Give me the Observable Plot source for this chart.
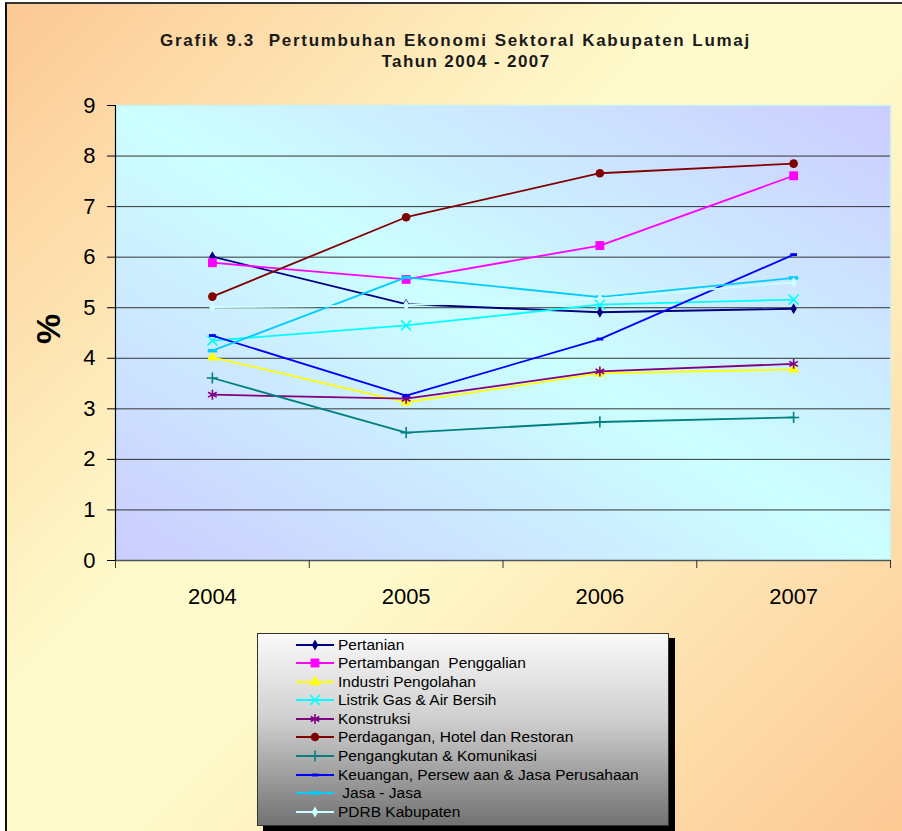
<!DOCTYPE html>
<html><head><meta charset="utf-8">
<script src="https://cdn.jsdelivr.net/npm/d3@7"></script>
<script src="https://cdn.jsdelivr.net/npm/@observablehq/plot@0.6"></script>
<style>
html,body{margin:0;padding:0;background:#fff;}
#wrap{position:relative;width:902px;height:831px;overflow:hidden;font-family:"Liberation Sans",Arial,sans-serif;}
#bg{position:absolute;left:5px;top:2px;width:897px;height:829px;box-sizing:border-box;border-left:2px solid #111;border-top:2px solid #333;
  background:linear-gradient(135deg,#fcc893 0%,#fffacb 40%,#fffacb 55%,#fcc893 100%);}
#chart{position:absolute;left:0;top:0;}
.t1{position:absolute;left:160px;top:31px;width:597px;overflow:hidden;white-space:pre;font-weight:bold;font-size:17px;line-height:19px;letter-spacing:1.7px;word-spacing:0.5px;color:#1a1a1a;}
.t2{position:absolute;left:266px;top:52px;width:400px;text-align:center;white-space:pre;font-weight:bold;font-size:17px;line-height:19px;letter-spacing:1.4px;color:#1a1a1a;}
.ylab{position:absolute;left:48px;top:329px;transform:translate(-50%,-50%) rotate(-90deg);font-weight:bold;font-size:34px;line-height:34px;color:#000;}
#legend{position:absolute;left:257px;top:633px;width:412px;height:193px;box-sizing:border-box;border:1px solid #333;
  background:linear-gradient(to bottom,#fafafa 0%,#cfcfcf 45%,#727272 100%);box-shadow:6px 5px 0 #000;}
.row{position:absolute;left:0;height:18px;width:100%;}
.row svg{position:absolute;left:37px;top:0;}
.row span{position:absolute;left:80px;top:0;line-height:18px;font-size:15.5px;white-space:pre;color:#000;}
</style></head>
<body>
<div id="wrap">
  <div id="bg"></div>
  <div id="chart"></div>
  <div class="t1">Grafik 9.3  Pertumbuhan Ekonomi Sektoral Kabupaten Lumaj</div>
  <div class="t2">Tahun 2004 - 2007</div>
  <div class="ylab">%</div>
  <div id="legend"></div>
</div>
<script>
// ---- data ----
const years = [2004, 2005, 2006, 2007];
const seriesNames = [
  "Pertanian",
  "Pertambangan  Penggalian",
  "Industri Pengolahan",
  "Listrik Gas & Air Bersih",
  "Konstruksi",
  "Perdagangan, Hotel dan Restoran",
  "Pengangkutan & Komunikasi",
  "Keuangan, Persew aan & Jasa Perusahaan",
  " Jasa - Jasa",
  "PDRB Kabupaten"
];
const pertanian    = [6.01, 5.07, 4.91, 4.98];
const pertambangan = [5.89, 5.56, 6.23, 7.61];
const industri     = [4.02, 3.13, 3.70, 3.78];
const listrik      = [4.35, 4.65, 5.06, 5.16];
const konstruksi   = [3.28, 3.20, 3.74, 3.89];
const perdagangan  = [5.22, 6.79, 7.66, 7.85];
const pengangkutan = [3.61, 2.53, 2.74, 2.83];
const keuangan     = [4.45, 3.26, 4.38, 6.05];
const jasa         = [4.15, 5.60, 5.21, 5.59];
const pdrb         = [5.01, 5.05, 5.18, 5.50];
const yTicks = [0, 1, 2, 3, 4, 5, 6, 7, 8, 9];
const gridTicks = [1, 2, 3, 4, 5, 6, 7, 8];
const categoryEdges = [2003.5, 2004.5, 2005.5, 2006.5, 2007.5];

const seriesValues = [pertanian, pertambangan, industri, listrik, konstruksi,
  perdagangan, pengangkutan, keuangan, jasa, pdrb];

// ---- styles ----
function dash(wf, hf) {
  return {draw(ctx, size) { const r = Math.sqrt(size / Math.PI); ctx.rect(-r * wf, -r * hf, 2 * r * wf, 2 * r * hf); }};
}
const styles = [
  {color: "#000080", symbol: "diamond", r: 3.3, filled: true},
  {color: "#ff00ff", symbol: "square", r: 5.0, filled: true},
  {color: "#ffff00", symbol: "triangle", r: 4.1, filled: true},
  {color: "#00ffff", symbol: "times", r: 4.6, filled: false},
  {color: "#800080", symbol: "asterisk", r: 4.7, filled: false},
  {color: "#800000", symbol: "circle", r: 4.3, filled: true},
  {color: "#008080", symbol: "plus", r: 3.7, filled: false},
  {color: "#0000ff", symbol: dash(1, 0.42), r: 3.4, filled: true},
  {color: "#00ccff", symbol: dash(1, 0.38), r: 4.6, filled: true},
  {color: "#ccffff", symbol: "diamond", r: 3.3, filled: true}
];

const table = seriesNames.flatMap((name, i) =>
  years.map((year, j) => ({series: name, idx: i, year, value: seriesValues[i][j]})));

const marks = [
  Plot.frame({fill: "url(#plotAreaGrad)", stroke: "#c6f2f2", strokeWidth: 1.5}),
  Plot.gridY(gridTicks, {stroke: "#202020", strokeOpacity: 0.9, strokeWidth: 1}),
  Plot.ruleY([0], {stroke: "#555", strokeWidth: 1.5}),
  Plot.ruleX([categoryEdges[0]], {stroke: "#000", strokeWidth: 1.2}),
  Plot.axisY({ticks: yTicks, tickSize: 8, tickPadding: 12, fontSize: 22, tickFormat: d => String(d), stroke: "#000", label: null}),
  Plot.axisX({ticks: categoryEdges, tickSize: 8, tickFormat: () => "", stroke: "#333", label: null}),
  Plot.axisX({ticks: years, tickSize: 0, tickPadding: 28, fontSize: 22, tickFormat: d => String(d), label: null})
];
seriesNames.forEach((name, i) => {
  const st = styles[i];
  const d = table.filter(t => t.idx === i);
  marks.push(Plot.line(d, {x: "year", y: "value", stroke: st.color, strokeWidth: 1.8}));
  marks.push(Plot.dot(d, {x: "year", y: "value", symbol: () => st.symbol, r: st.r,
    fill: st.filled ? st.color : "none", stroke: st.filled ? "none" : st.color, strokeWidth: 1.6}));
});

const chart = Plot.plot({
  width: 902, height: 831,
  marginTop: 105, marginBottom: 271, marginLeft: 115, marginRight: 12,
  style: {background: "transparent", fontFamily: "'Liberation Sans', Arial, sans-serif", color: "#000", overflow: "visible"},
  x: {type: "linear", domain: [2003.5, 2007.5], axis: null},
  y: {domain: [0, 9], axis: null},
  symbol: {type: "identity"},
  marks
});
// gradient definition for the plot area
const svgNS = "http://www.w3.org/2000/svg";
const defs = document.createElementNS(svgNS, "defs");
defs.innerHTML = '<linearGradient id="plotAreaGrad" x1="1" y1="0" x2="0" y2="1">' +
  '<stop offset="0" stop-color="#ccccff"/><stop offset="0.5" stop-color="#ccffff"/><stop offset="1" stop-color="#ccccff"/></linearGradient>';
chart.insertBefore(defs, chart.firstChild);
document.getElementById("chart").appendChild(chart);

// ---- legend ----
const legend = document.getElementById("legend");
const symMap = {diamond: d3.symbolDiamond, square: d3.symbolSquare, triangle: d3.symbolTriangle, times: d3.symbolTimes,
  asterisk: d3.symbolAsterisk, circle: d3.symbolCircle, plus: d3.symbolPlus};
seriesNames.forEach((name, i) => {
  const st = styles[i];
  const row = document.createElement("div");
  row.className = "row";
  row.style.top = (1.7 + i * 18.55) + "px";
  const type = typeof st.symbol === "string" ? symMap[st.symbol] : st.symbol;
  const path = d3.symbol(type, st.r * st.r * Math.PI)();
  row.innerHTML = `<svg width="40" height="18"><line x1="1" x2="39" y1="9" y2="9" stroke="${st.color}" stroke-width="1.8"/>` +
    `<path transform="translate(20,9)" d="${path}" fill="${st.filled ? st.color : "none"}" stroke="${st.filled ? "none" : st.color}" stroke-width="1.6"/></svg>` +
    `<span></span>`;
  row.querySelector("span").textContent = name;
  legend.appendChild(row);
});
</script>
</body></html>
